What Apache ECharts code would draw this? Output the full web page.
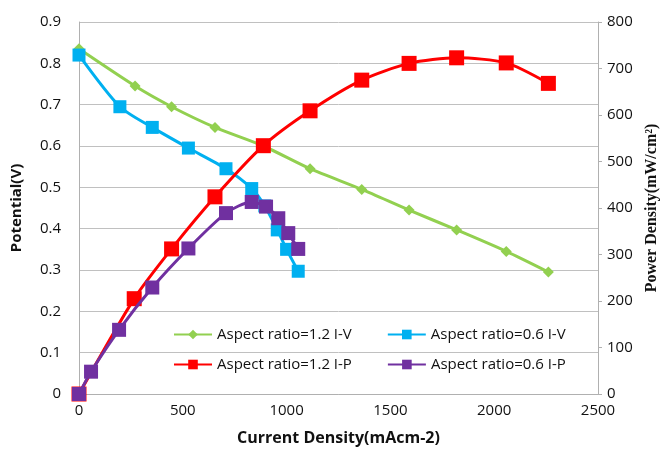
<!DOCTYPE html>
<html><head><meta charset="utf-8">
<script src="https://cdn.jsdelivr.net/npm/echarts@6/dist/echarts.min.js"></script>
<style>html,body{margin:0;padding:0;background:#fff}#c{width:665px;height:451px}</style>
</head><body><div id="c"></div>
<script>
var iv12X = [0, 270, 446, 655, 888, 1113, 1362, 1590, 1819, 2058, 2261];
var iv12V = [0.835, 0.745, 0.695, 0.645, 0.600, 0.545, 0.495, 0.445, 0.397, 0.345, 0.295];
var iv06X = [0, 197, 353, 527, 708, 832, 895, 955, 1000, 1056];
var iv06V = [0.82, 0.695, 0.645, 0.595, 0.545, 0.497, 0.455, 0.397, 0.35, 0.297];
var ip12X = [0, 266, 446, 655, 888, 1113, 1362, 1590, 1819, 2058, 2261];
var ip12P = [0, 205, 312, 424, 534, 609, 675, 711, 723, 712, 668];
var ip06X = [0, 58, 193, 353, 527, 708, 832, 901, 960, 1008, 1056];
var ip06P = [0, 48, 138, 229, 313, 389, 413, 403, 378, 346, 312];
var names = ['Aspect ratio=1.2 I-V', 'Aspect ratio=0.6 I-V', 'Aspect ratio=1.2 I-P', 'Aspect ratio=0.6 I-P'];

function pairs(xs, ys){ return xs.map(function(x,i){ return [x, ys[i]]; }); }
var font = '"Open Sans", sans-serif';
var chart = echarts.init(document.getElementById('c'));
function ser(name, data, color, symbol, size, yIdx, z){
  return {name:name, type:'line', yAxisIndex:yIdx, data:data, smooth:0.25,
    symbol:symbol, symbolSize:size, showSymbol:true, z:z,
    lineStyle:{color:color, width:3}, itemStyle:{color:color}};
}
var legText = {fontFamily:font, fontSize:15, color:'#111'};
chart.setOption({
  animation:false,
  grid:{left:79, right:67, top:22, bottom:57, containLabel:false, outerBoundsMode:'none'},
  legend:[
    {data:[names[0], names[1]], left:168, top:322, itemWidth:38, itemHeight:12, itemGap:35, textStyle:legText},
    {data:[names[2], names[3]], left:168, top:352, itemWidth:38, itemHeight:12, itemGap:35, textStyle:legText}
  ],
  xAxis:{type:'value', min:0, max:2500, interval:500,
    name:'Current Density(mAcm-2)', nameLocation:'middle', nameGap:36,
    nameTextStyle:{fontFamily:font, fontSize:16, fontWeight:'bold', color:'#111'},
    axisLine:{lineStyle:{color:'#b0b0b0'}}, axisTick:{show:false},
    axisLabel:{fontFamily:font, fontSize:15, color:'#111', margin:9,
      formatter:function(v){ return String(v); }},
    splitLine:{show:false}},
  yAxis:[
    {type:'value', min:0, max:0.9, interval:0.1,
     name:'Potential(V)', nameLocation:'middle', nameGap:55,
     nameTextStyle:{fontFamily:font, fontSize:15, fontWeight:'bold', color:'#111'},
     axisLine:{show:true, lineStyle:{color:'#b0b0b0'}}, axisTick:{show:false},
     axisLabel:{fontFamily:font, fontSize:15, color:'#111', margin:18,
       formatter:function(v){ return v===0 ? '0' : v.toFixed(1); }},
     splitLine:{show:true, lineStyle:{color:'#c0c0c0', width:1}}},
    {type:'value', min:0, max:800, interval:100, position:'right',
     name:'Power Density(mW/cm\u00B2)', nameLocation:'middle', nameGap:45, nameRotate:90,
     nameTextStyle:{fontFamily:'"Liberation Serif", serif', fontSize:16, fontWeight:'bold', color:'#111'},
     axisLine:{show:true, lineStyle:{color:'#b0b0b0'}},
     axisTick:{show:true, length:4, lineStyle:{color:'#b0b0b0'}},
     axisLabel:{fontFamily:font, fontSize:15, color:'#111', margin:9},
     splitLine:{show:false}}
  ],
  series:[
    ser(names[0], pairs(iv12X, iv12V), '#92d050', 'diamond', 11, 0, 2),
    ser(names[1], pairs(iv06X, iv06V), '#00b0f0', 'rect', 13, 0, 3),
    ser(names[2], pairs(ip12X, ip12P), '#ff0000', 'rect', 15, 1, 4),
    ser(names[3], pairs(ip06X, ip06P), '#7030a0', 'rect', 14, 1, 5)
  ]
});
</script></body></html>
